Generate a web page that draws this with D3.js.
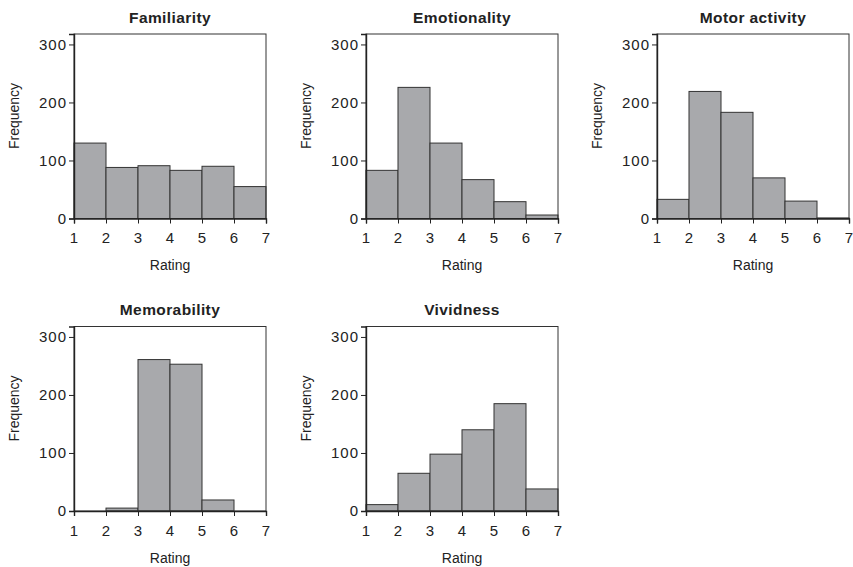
<!DOCTYPE html>
<html>
<head>
<meta charset="utf-8">
<script src="https://cdn.jsdelivr.net/npm/d3@7"></script>
<style>
  body { margin: 0; background: #fff; }
  svg text { font-family: "Liberation Sans", Arial, sans-serif; fill: #222; }
</style>
</head>
<body>
<svg id="chart" width="853" height="567"></svg>
<script>
// Frecuencias, un valor por intervalo de 1 punto (1-2 ... 6-7)
const titles = ['Familiarity', 'Emotionality', 'Motor activity', 'Memorability', 'Vividness'];
const familiarity = [130, 88, 91, 83, 90, 55];
const emotionality = [83, 226, 130, 67, 29, 6];
const motorActivity = [33, 219, 183, 70, 30, 1];
const memorability = [0, 5, 261, 253, 19, 0];
const vividness = [11, 65, 98, 140, 185, 38];
const xTicks = [1, 2, 3, 4, 5, 6, 7];
const yTicks = [0, 100, 200, 300];

const seriesList = [familiarity, emotionality, motorActivity, memorability, vividness];

const svg = d3.select('#chart');
const panelW = 192;
const panelH = 184.5;
const colLeft = [74, 366, 657];
const rowTop = [34, 326.5];

seriesList.forEach((values, i) => {
  const left = colLeft[i % 3];
  const top = rowTop[Math.floor(i / 3)];
  const g = svg.append('g').attr('transform', `translate(${left},${top})`);

  const x = d3.scaleLinear().domain([1, 7]).range([0, panelW]);
  const y = d3.scaleLinear().domain([0, 318]).range([panelH, 0]);

  const bins = values.map((v, k) => ({ x0: k + 1, x1: k + 2, v }));

  g.selectAll('rect.bar')
    .data(bins.filter((d) => d.v > 0))
    .join('rect')
    .attr('class', 'bar')
    .attr('x', (d) => x(d.x0))
    .attr('width', (d) => x(d.x1) - x(d.x0))
    .attr('y', (d) => y(d.v))
    .attr('height', (d) => y(0) - y(d.v))
    .attr('fill', '#a8a9ac')
    .attr('stroke', '#333')
    .attr('stroke-width', 1);

  // marco del panel
  g.append('rect')
    .attr('x', 0).attr('y', 0)
    .attr('width', panelW).attr('height', panelH)
    .attr('fill', 'none')
    .attr('stroke', '#333')
    .attr('stroke-width', 1);

  const xAxis = g.append('g')
    .attr('transform', `translate(0,${panelH})`)
    .call(d3.axisBottom(x).tickValues(xTicks).tickFormat(d3.format('d')).tickSize(5).tickPadding(9));
  const yAxis = g.append('g')
    .call(d3.axisLeft(y).tickValues(yTicks).tickSize(5).tickPadding(2));

  [xAxis, yAxis].forEach((ax) => {
    ax.select('.domain').attr('stroke', '#222').attr('stroke-width', 1.4);
    ax.selectAll('.tick line').attr('stroke', '#222');
    ax.selectAll('.tick text').attr('font-size', 15).attr('fill', '#222').attr('letter-spacing', 1);
  });

  g.append('text')
    .attr('x', panelW / 2)
    .attr('y', -11.5)
    .attr('text-anchor', 'middle')
    .attr('font-size', 15.5)
    .attr('font-weight', 'bold')
    .attr('letter-spacing', 0.4)
    .text(titles[i]);

  g.append('text')
    .attr('x', panelW / 2)
    .attr('y', panelH + 51.5)
    .attr('text-anchor', 'middle')
    .attr('font-size', 14)
    .text('Rating');

  g.append('text')
    .attr('transform', `translate(-55,82) rotate(-90)`)
    .attr('text-anchor', 'middle')
    .attr('font-size', 14)
    .text('Frequency');
});
</script>
</body>
</html>
